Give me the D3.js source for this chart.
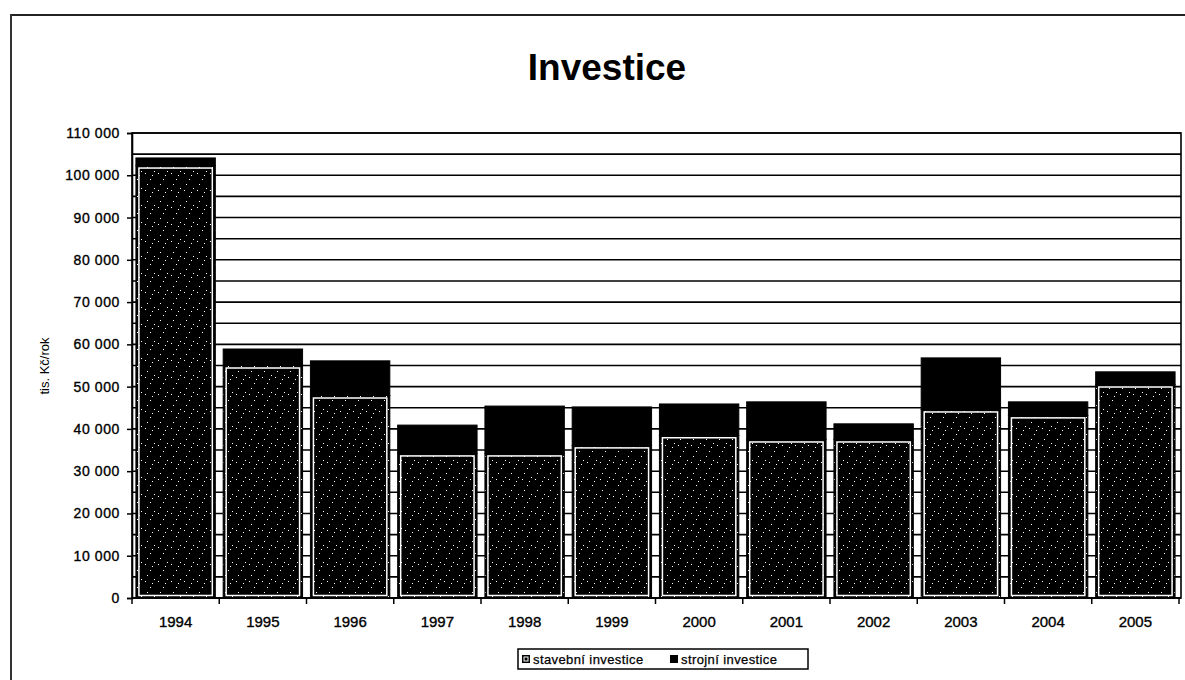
<!DOCTYPE html>
<html>
<head>
<meta charset="utf-8">
<script src="https://cdn.jsdelivr.net/npm/d3@7/dist/d3.min.js"></script>
<style>
  html, body { margin: 0; padding: 0; background: #fff; }
  svg { display: block; font-family: "Liberation Sans", Arial, sans-serif; }
</style>
</head>
<body>
<svg id="chart" width="1185" height="680"></svg>
<script>
// ---- data ----
const years = ["1994","1995","1996","1997","1998","1999","2000","2001","2002","2003","2004","2005"];
const stavebni = [102300, 55000, 47900, 34200, 34200, 36100, 38500, 37500, 37500, 44600, 43200, 50500];
const strojni  = [1800, 3900, 8200, 6700, 11200, 9100, 7400, 8900, 3700, 12200, 3200, 3000];
const seriesNames = ["stavební investice", "strojní investice"];
const yTickValues = [0, 10000, 20000, 30000, 40000, 50000, 60000, 70000, 80000, 90000, 100000, 110000];
const titleText = "Investice";
const yAxisTitle = "tis. Kč/rok";

// ---- layout ----
const svg = d3.select("#chart");
const plot = { left: 132, right: 1181, top: 133, bottom: 598 };

const x = d3.scaleBand().domain(years).range([plot.left, plot.right - 2])
  .paddingInner(0.09).paddingOuter(0.045);
const y = d3.scaleLinear().domain([0, 110000]).range([plot.bottom, plot.top]);

// pattern for the stavební segment (speckled fill)
const defs = svg.append("defs");
const pat = defs.append("pattern").attr("id", "speck")
  .attr("patternUnits", "userSpaceOnUse").attr("width", 13).attr("height", 17);
pat.append("rect").attr("width", 13).attr("height", 17).attr("fill", "#000");
[[2,3],[7,9],[11,1],[4,14],[9,5]].forEach(p => {
  pat.append("rect").attr("x", p[0]).attr("y", p[1]).attr("width", 1).attr("height", 1).attr("fill", "#fff");
});

// chart border (outer frame)
svg.append("line").attr("x1", 11).attr("x2", 1185).attr("y1", 15).attr("y2", 15)
  .attr("stroke", "#222").attr("stroke-width", 2);
svg.append("line").attr("x1", 11).attr("x2", 11).attr("y1", 14).attr("y2", 680)
  .attr("stroke", "#333").attr("stroke-width", 2);

// title
svg.append("text").attr("x", 607).attr("y", 80).attr("text-anchor", "middle")
  .attr("font-size", 37).attr("font-weight", "bold").attr("fill", "#000").text(titleText);

// gridlines every 5000
const gridVals = d3.range(0, 110001, 5000);
svg.append("g").selectAll("line").data(gridVals).join("line")
  .attr("x1", plot.left).attr("x2", plot.right)
  .attr("y1", d => y(d)).attr("y2", d => y(d))
  .attr("stroke", "#000").attr("stroke-width", 1.6);

// plot frame
svg.append("rect").attr("x", plot.left).attr("y", plot.top)
  .attr("width", plot.right - plot.left).attr("height", plot.bottom - plot.top)
  .attr("fill", "none").attr("stroke", "#000").attr("stroke-width", 1.6);

// bars
const bars = svg.append("g");
years.forEach((yr, i) => {
  const bx = x(yr), bw = x.bandwidth();
  const y0 = y(0), y1 = y(stavebni[i]), y2 = y(stavebni[i] + strojni[i]);
  // strojní (upper, solid black)
  bars.append("rect").attr("x", bx).attr("y", y2).attr("width", bw).attr("height", y1 - y2)
    .attr("fill", "#000").attr("stroke", "#000").attr("stroke-width", 1);
  // stavební (lower, speckled, white inner outline)
  bars.append("rect").attr("x", bx).attr("y", y1).attr("width", bw).attr("height", y0 - y1)
    .attr("fill", "url(#speck)").attr("stroke", "#000").attr("stroke-width", 1);
  bars.append("rect").attr("x", bx + 3).attr("y", y1 + 2.5).attr("width", bw - 6).attr("height", y0 - y1 - 5)
    .attr("fill", "none").attr("stroke", "#fff").attr("stroke-width", 1.5);
});

// y axis
const yAxis = d3.axisLeft(y).tickValues(yTickValues).tickSize(5).tickPadding(7)
  .tickFormat(d => d3.format(",")(d).replace(/,/g, " "));
const gy = svg.append("g").attr("transform", `translate(${plot.left},0)`).call(yAxis);
gy.select(".domain").attr("stroke", "#000").attr("stroke-width", 1.6);
gy.selectAll(".tick line").attr("stroke", "#000").attr("stroke-width", 1.5);
gy.selectAll(".tick text").attr("font-size", 14).attr("fill", "#000")
  .attr("stroke", "#000").attr("stroke-width", 0.35)
  .attr("font-family", "'Liberation Sans', Arial, sans-serif").attr("letter-spacing", "0.6px");

// x axis (ticks at category boundaries)
const half = (x.step() - x.bandwidth()) / 2;
const bounds = years.map(d => x(d) - half).concat([x(years[years.length - 1]) + x.bandwidth() + half]);
const gx = svg.append("g");
gx.append("line").attr("x1", plot.left).attr("x2", plot.right).attr("y1", plot.bottom).attr("y2", plot.bottom)
  .attr("stroke", "#000").attr("stroke-width", 1.6);
gx.selectAll("line.tk").data(bounds).join("line").attr("class", "tk")
  .attr("x1", d => d).attr("x2", d => d).attr("y1", plot.bottom).attr("y2", plot.bottom + 6)
  .attr("stroke", "#000").attr("stroke-width", 1.5);
gx.selectAll("text").data(years).join("text")
  .attr("x", d => x(d) + x.bandwidth() / 2).attr("y", 627)
  .attr("text-anchor", "middle").attr("font-size", 15).attr("fill", "#000")
  .attr("stroke", "#000").attr("stroke-width", 0.35).text(d => d);

// y axis title
svg.append("text").attr("transform", "translate(49,366) rotate(-90)")
  .attr("text-anchor", "middle").attr("font-size", 13).attr("fill", "#000").text(yAxisTitle);

// legend
const lg = svg.append("g");
lg.append("rect").attr("x", 518).attr("y", 649).attr("width", 290).attr("height", 20)
  .attr("fill", "#fff").attr("stroke", "#000").attr("stroke-width", 1.5);
const items = [
  { name: seriesNames[0], x: 522, tx: 533, outline: true },
  { name: seriesNames[1], x: 670, tx: 681, outline: false }
];
items.forEach(it => {
  lg.append("rect").attr("x", it.x).attr("y", 655).attr("width", 8).attr("height", 8)
    .attr("fill", "#000");
  if (it.outline) {
    lg.append("rect").attr("x", it.x + 2).attr("y", 657).attr("width", 4).attr("height", 4)
      .attr("fill", "none").attr("stroke", "#fff").attr("stroke-width", 1);
  }
  lg.append("text").attr("x", it.tx).attr("y", 664).attr("font-size", 13).attr("fill", "#000")
    .attr("stroke", "#000").attr("stroke-width", 0.25)
    .attr("letter-spacing", "0.4px").text(it.name);
});
</script>
</body>
</html>
